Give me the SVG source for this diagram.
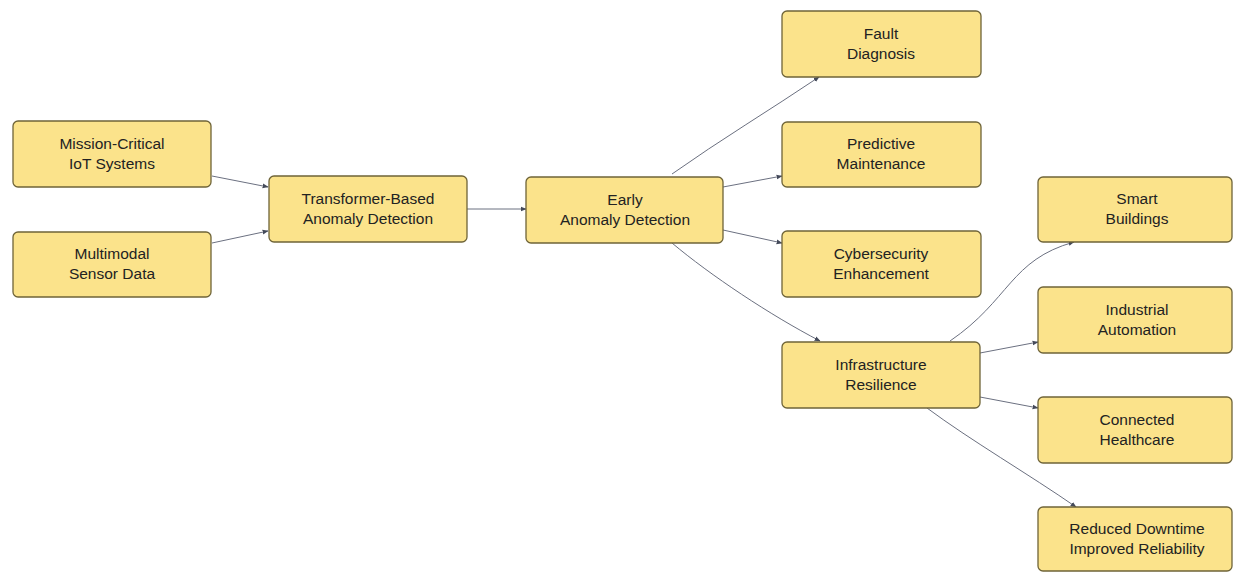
<svg xmlns="http://www.w3.org/2000/svg" width="1233" height="572" viewBox="0 0 1233 572">
<style>
.n rect{fill:#fbe38b;stroke:#6f6438;stroke-width:1.3}
.n text{font-family:"Liberation Sans",Arial,sans-serif;font-size:15.5px;fill:#222;text-anchor:middle}
.e path{fill:none;stroke:#6b7080;stroke-width:1}
</style>
<defs>
<marker id="ah" viewBox="0 0 10 10" refX="9" refY="5" markerWidth="6" markerHeight="6" orient="auto" markerUnits="userSpaceOnUse">
<path d="M0,1 L10,5 L0,9 z" fill="#444a5a"/>
</marker>
</defs>
<rect width="1233" height="572" fill="#ffffff"/>
<g class="e">
<path d="M212,176 L268,187" marker-end="url(#ah)"/>
<path d="M212,243 L268,231" marker-end="url(#ah)"/>
<path d="M467,209 L526,209" marker-end="url(#ah)"/>
<path d="M672,174 C720,140 770,110 819,77" marker-end="url(#ah)"/>
<path d="M723,187 L782,176" marker-end="url(#ah)"/>
<path d="M723,230 L782,243" marker-end="url(#ah)"/>
<path d="M672,243 C710,275 770,315 820,341" marker-end="url(#ah)"/>
<path d="M950,341 C1010,300 1010,260 1074,242" marker-end="url(#ah)"/>
<path d="M980,353 L1038,342" marker-end="url(#ah)"/>
<path d="M980,397 L1038,408" marker-end="url(#ah)"/>
<path d="M927,408 C970,440 1030,475 1076,507" marker-end="url(#ah)"/>
</g>
<g id="mission" class="n"><rect x="13" y="121" width="198" height="66" rx="5"/><text x="112" y="149">Mission-Critical</text><text x="112" y="169">IoT Systems</text></g>
<g id="multimodal" class="n"><rect x="13" y="232" width="198" height="65" rx="5"/><text x="112" y="259">Multimodal</text><text x="112" y="279">Sensor Data</text></g>
<g id="transformer" class="n"><rect x="269" y="176" width="198" height="66" rx="5"/><text x="368" y="204">Transformer-Based</text><text x="368" y="224">Anomaly Detection</text></g>
<g id="early" class="n"><rect x="526" y="177" width="197" height="66" rx="5"/><text x="625" y="205">Early</text><text x="625" y="225">Anomaly Detection</text></g>
<g id="fault" class="n"><rect x="782" y="11" width="199" height="66" rx="5"/><text x="881" y="39">Fault</text><text x="881" y="59">Diagnosis</text></g>
<g id="predictive" class="n"><rect x="782" y="122" width="199" height="65" rx="5"/><text x="881" y="149">Predictive</text><text x="881" y="169">Maintenance</text></g>
<g id="cyber" class="n"><rect x="782" y="231" width="199" height="66" rx="5"/><text x="881" y="259">Cybersecurity</text><text x="881" y="279">Enhancement</text></g>
<g id="infra" class="n"><rect x="782" y="342" width="198" height="66" rx="5"/><text x="881" y="370">Infrastructure</text><text x="881" y="390">Resilience</text></g>
<g id="smart" class="n"><rect x="1038" y="177" width="194" height="65" rx="5"/><text x="1137" y="204">Smart</text><text x="1137" y="224">Buildings</text></g>
<g id="industrial" class="n"><rect x="1038" y="287" width="194" height="66" rx="5"/><text x="1137" y="315">Industrial</text><text x="1137" y="335">Automation</text></g>
<g id="connected" class="n"><rect x="1038" y="397" width="194" height="66" rx="5"/><text x="1137" y="425">Connected</text><text x="1137" y="445">Healthcare</text></g>
<g id="reduced" class="n"><rect x="1038" y="507" width="194" height="64" rx="5"/><text x="1137" y="534">Reduced Downtime</text><text x="1137" y="554">Improved Reliability</text></g>
</svg>
